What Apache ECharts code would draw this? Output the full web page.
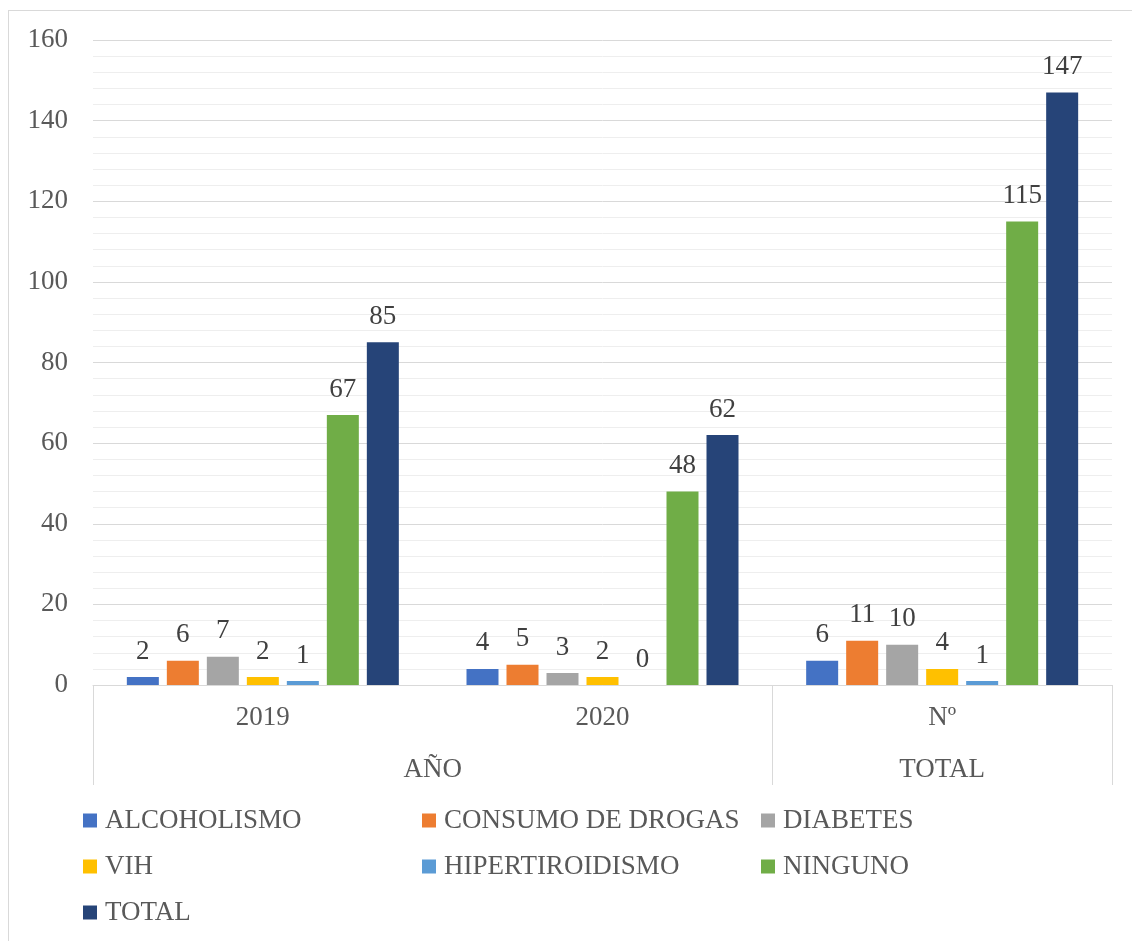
<!DOCTYPE html>
<html>
<head>
<meta charset="utf-8">
<script src="https://cdn.jsdelivr.net/npm/echarts@6/dist/echarts.min.js"></script>
<style>
html, body {
  margin: 0;
  padding: 0;
  background: #fff;
  overflow: hidden;
}
#frame {
  position: absolute;
  left: 8px;
  top: 10px;
  width: 1300px;
  height: 1100px;
  border: 1px solid #d9d9d9;
}
#chart {
  position: absolute;
  left: 0;
  top: 0;
  width: 1132px;
  height: 941px;
}
</style>
</head>
<body>
<div id="frame"></div>
<div id="chart"></div>
<script>
// categories and group labels
const years = ['2019', '2020', 'Nº'];
const groups = ['AÑO', 'TOTAL'];

// series values (2019, 2020, Nº)
const alcoholismo = [2, 4, 6];
const consumoDrogas = [6, 5, 11];
const diabetes = [7, 3, 10];
const vih = [2, 2, 4];
const hipertiroidismo = [1, 0, 1];
const ninguno = [67, 48, 115];
const total = [85, 62, 147];

const seriesNames = ['ALCOHOLISMO', 'CONSUMO DE DROGAS', 'DIABETES', 'VIH', 'HIPERTIROIDISMO', 'NINGUNO', 'TOTAL'];
const seriesData = [alcoholismo, consumoDrogas, diabetes, vih, hipertiroidismo, ninguno, total];
const colors = ['#4472c4', '#ed7d31', '#a5a5a5', '#ffc000', '#5b9bd5', '#70ad47', '#264478'];

const font = "'Liberation Serif', 'Times New Roman', serif";

let chart = echarts.init(document.getElementById('chart'));

let series = seriesNames.map(function (name, i) {
  return {
    name: name,
    type: 'bar',
    xAxisIndex: 0,
    data: seriesData[i],
    barWidth: 32,
    barGap: '25%',
    itemStyle: { color: colors[i] },
    label: {
      show: true,
      position: 'top',
      distance: 12,
      fontFamily: font,
      fontSize: 27,
      color: '#404040'
    }
  };
});

function legendCol(names, left) {
  return {
    orient: 'vertical',
    left: left,
    top: 807,
    padding: 0,
    data: names,
    icon: 'rect',
    itemWidth: 14,
    itemHeight: 14,
    itemGap: 19,
    selectedMode: false,
    textStyle: {
      fontFamily: font,
      fontSize: 27,
      color: '#595959',
      padding: [0, 0, 0, 3]
    }
  };
}

chart.setOption({
  animation: false,
  color: colors,
  grid: { left: 93, right: 20, top: 40, bottom: 256 },
  legend: [
    legendCol(['ALCOHOLISMO', 'VIH', 'TOTAL'], 83),
    legendCol(['CONSUMO DE DROGAS', 'HIPERTIROIDISMO'], 422),
    legendCol(['DIABETES', 'NINGUNO'], 761)
  ],
  xAxis: [
    {
      type: 'category',
      data: years,
      position: 'bottom',
      axisLine: { show: true, lineStyle: { color: '#d9d9d9', width: 1 } },
      axisTick: { show: false },
      axisLabel: {
        margin: 19,
        fontFamily: font,
        fontSize: 27,
        color: '#595959'
      }
    },
    {
      type: 'value',
      position: 'bottom',
      min: 0,
      max: 3,
      axisLine: { show: false },
      splitLine: { show: false },
      axisTick: {
        show: true,
        customValues: [0, 2, 3],
        length: 100,
        lineStyle: { color: '#d9d9d9', width: 1 }
      },
      axisLabel: {
        customValues: [1, 2.5],
        margin: 71,
        fontFamily: font,
        fontSize: 27,
        color: '#595959',
        formatter: function (v) {
          return v === 1 ? groups[0] : groups[1];
        }
      }
    }
  ],
  yAxis: {
    type: 'value',
    min: 0,
    max: 160,
    interval: 20,
    axisLine: { show: false },
    axisTick: { show: false },
    minorTick: { show: false, splitNumber: 5 },
    splitLine: { lineStyle: { color: '#d9d9d9', width: 1 } },
    minorSplitLine: { show: true, lineStyle: { color: '#eeeeee', width: 1 } },
    axisLabel: {
      margin: 25,
      fontFamily: font,
      fontSize: 27,
      color: '#595959'
    }
  },
  series: series
});
</script>
</body>
</html>
